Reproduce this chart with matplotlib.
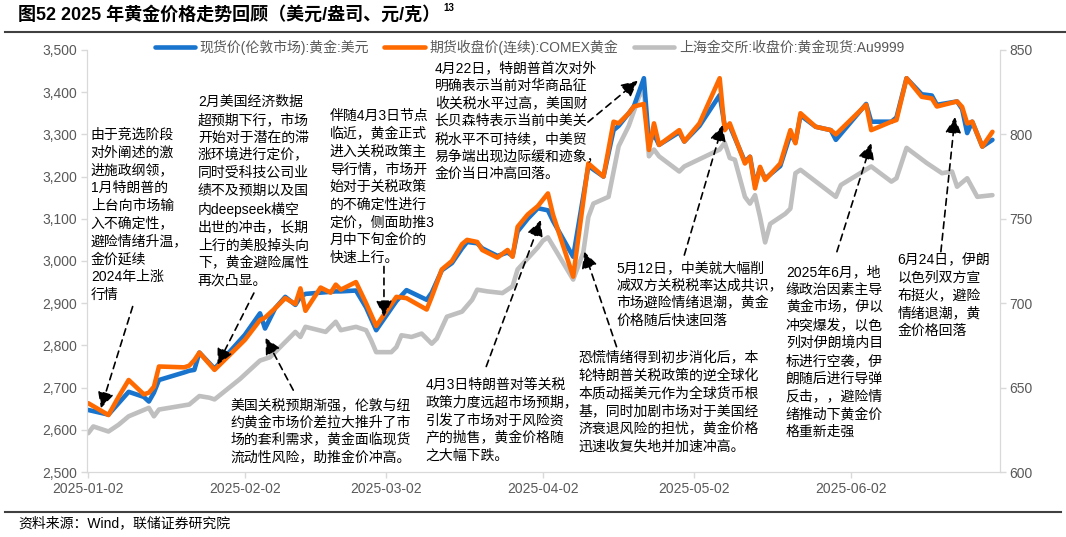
import matplotlib
matplotlib.use('Agg')
import matplotlib.pyplot as plt
import matplotlib.dates as mdates
import pandas as pd

plt.rcParams['font.family'] = ['Liberation Sans', 'Noto Sans CJK SC']
plt.rcParams['axes.unicode_minus'] = False

# 现货价(伦敦) / COMEX 期货 (美元/盎司)
dates_usd = ['2025-01-02', '2025-01-06', '2025-01-08', '2025-01-10', '2025-01-13', '2025-01-14',
             '2025-01-15', '2025-01-16', '2025-01-21', '2025-01-22', '2025-01-23', '2025-01-24',
             '2025-01-27', '2025-02-02', '2025-02-05', '2025-02-06', '2025-02-08', '2025-02-10',
             '2025-02-12', '2025-02-13', '2025-02-14', '2025-02-17', '2025-02-19', '2025-02-20',
             '2025-02-21', '2025-02-24', '2025-02-26', '2025-02-28', '2025-03-04', '2025-03-06',
             '2025-03-10', '2025-03-11', '2025-03-13', '2025-03-15', '2025-03-17', '2025-03-18',
             '2025-03-20', '2025-03-21', '2025-03-24', '2025-03-26', '2025-03-27', '2025-03-28',
             '2025-03-30', '2025-04-01', '2025-04-03', '2025-04-04', '2025-04-08', '2025-04-11',
             '2025-04-14', '2025-04-16', '2025-04-17', '2025-04-19', '2025-04-20', '2025-04-22',
             '2025-04-23', '2025-04-24', '2025-04-25', '2025-04-29', '2025-04-30', '2025-05-03',
             '2025-05-07', '2025-05-08', '2025-05-09', '2025-05-12', '2025-05-13', '2025-05-14',
             '2025-05-15', '2025-05-16', '2025-05-19', '2025-05-21', '2025-05-22', '2025-05-23',
             '2025-05-26', '2025-05-29', '2025-05-30', '2025-06-05', '2025-06-06', '2025-06-10',
             '2025-06-11', '2025-06-13', '2025-06-16', '2025-06-18', '2025-06-19', '2025-06-23',
             '2025-06-24', '2025-06-25', '2025-06-26', '2025-06-28', '2025-06-30']
spot_london = [2647, 2636, 2663, 2690, 2678, 2667,
               2688, 2718, 2736, 2740, 2742, 2783,
               2745, 2825, 2876, 2840, 2888, 2915,
               2896, 2915, 2922, 2925, 2927, 2928,
               2928, 2930, 2890, 2836, 2905, 2931,
               2908, 2925, 2978, 2995, 3030, 3045,
               3042, 3030, 3012, 3020, 3012, 3070,
               3100, 3125, 3120, 3095, 3010, 3225,
               3200, 3310, 3320, 3350, 3366, 3433,
               3279, 3300, 3275, 3305, 3283, 3320,
               3393, 3320, 3320, 3235, 3247, 3180,
               3220, 3195, 3225, 3300, 3282, 3345,
               3318, 3310, 3287, 3372, 3330, 3330,
               3340, 3433, 3395, 3392, 3370, 3378,
               3360, 3303, 3330, 3271, 3287]
comex_close = [2663, 2635, 2678, 2718, 2684, 2688,
               2702, 2750, 2748, 2752, 2765, 2783,
               2742, 2813, 2860, 2866, 2888, 2912,
               2898, 2935, 2882, 2937, 2925, 2944,
               2932, 2950, 2900, 2846, 2915, 2912,
               2885, 2915, 2980, 3000, 3040, 3050,
               3045, 3026, 3008, 3026, 3010, 3081,
               3110, 3130, 3160, 3110, 2963, 3231,
               3200, 3330, 3326, 3350, 3366, 3372,
               3263, 3326, 3275, 3310, 3283, 3326,
               3433, 3310, 3326, 3231, 3247, 3172,
               3223, 3192, 3231, 3310, 3279, 3350,
               3318, 3310, 3300, 3370, 3310, 3330,
               3334, 3433, 3389, 3385, 3366, 3378,
               3365, 3326, 3330, 3271, 3306]

# 上海金交所 Au9999 (元/克)
dates_sge = ['2025-01-02', '2025-01-03', '2025-01-06', '2025-01-08', '2025-01-10', '2025-01-14',
             '2025-01-15', '2025-01-16', '2025-01-22', '2025-01-24', '2025-01-26', '2025-01-27',
             '2025-02-01', '2025-02-05', '2025-02-07', '2025-02-12', '2025-02-13', '2025-02-14',
             '2025-02-18', '2025-02-20', '2025-02-21', '2025-02-24', '2025-02-26', '2025-02-27',
             '2025-02-28', '2025-03-03', '2025-03-04', '2025-03-05', '2025-03-07', '2025-03-09',
             '2025-03-11', '2025-03-12', '2025-03-14', '2025-03-17', '2025-03-19', '2025-03-20',
             '2025-03-22', '2025-03-25', '2025-03-27', '2025-03-28', '2025-04-01', '2025-04-02',
             '2025-04-03', '2025-04-04', '2025-04-08', '2025-04-10', '2025-04-11', '2025-04-12',
             '2025-04-15', '2025-04-17', '2025-04-19', '2025-04-21', '2025-04-22', '2025-04-23',
             '2025-04-24', '2025-04-25', '2025-04-29', '2025-04-30', '2025-05-07', '2025-05-08',
             '2025-05-09', '2025-05-10', '2025-05-12', '2025-05-13', '2025-05-14', '2025-05-15',
             '2025-05-16', '2025-05-17', '2025-05-20', '2025-05-21', '2025-05-22', '2025-05-23',
             '2025-05-30', '2025-05-31', '2025-06-06', '2025-06-10', '2025-06-11', '2025-06-13',
             '2025-06-17', '2025-06-20', '2025-06-22', '2025-06-23', '2025-06-25', '2025-06-27',
             '2025-06-30']
sge_au9999 = [623, 627, 624, 628, 633, 638,
              633, 637, 640, 645, 644, 643,
              655, 666, 668, 683, 680, 686,
              683, 689, 684, 686, 684, 678,
              671, 671, 674, 681, 680, 682,
              676, 679, 692, 695, 702, 708,
              707, 706, 710, 720, 733, 737,
              739, 734, 714, 730, 751, 759,
              763, 793, 805, 822, 827, 787,
              791, 787, 778, 781, 791, 795,
              786, 785, 763, 759, 764, 751,
              736, 747, 753, 756, 777, 779,
              763, 770, 781, 772, 774, 792,
              783, 777, 778, 769, 774, 763,
              764]

series_names = ['现货价(伦敦市场):黄金:美元', '期货收盘价(连续):COMEX黄金',
                '上海金交所:收盘价:黄金现货:Au9999']
tick_dates = ['2025-01-02', '2025-02-02', '2025-03-02', '2025-04-02', '2025-05-02', '2025-06-02']

notes = [
    ('由于竞选阶段\n对外阐述的激\n进施政纲领，\n1月特朗普的\n上台向市场输\n入不确定性，\n避险情绪升温，\n金价延续\n2024年上涨\n行情',
     '2025-01-02 12:00', 3315),
    ('2月美国经济数据\n超预期下行，市场\n开始对于潜在的滞\n涨环境进行定价，\n同时受科技公司业\n绩不及预期以及国\n内deepseek横空\n出世的冲击，长期\n上行的美股掉头向\n下，黄金避险属性\n再次凸显。',
     '2025-01-23 17:00', 3393),
    ('伴随4月3日节点\n临近，黄金正式\n进入关税政策主\n导行情，市场开\n始对于关税政策\n的不确定性进行\n定价，侧面助推3\n月中下旬金价的\n快速上行。',
     '2025-02-18 19:00', 3360),
    ('4月22日，特朗普首次对外\n明确表示当前对华商品征\n收关税水平过高，美国财\n长贝森特表示当前中美关\n税水平不可持续，中美贸\n易争端出现边际缓和迹象，\n金价当日冲高回落。',
     '2025-03-11 14:00', 3474),
    ('美国关税预期渐强，伦敦与纽\n约黄金市场价差拉大推升了市\n场的套利需求，黄金面临现货\n流动性风险，助推金价冲高。',
     '2025-01-30 05:00', 2675),
    ('4月3日特朗普对等关税\n政策力度远超市场预期，\n引发了市场对于风险资\n产的抛售，黄金价格随\n之大幅下跌。',
     '2025-03-09 19:00', 2723),
    ('恐慌情绪得到初步消化后，本\n轮特朗普关税政策的逆全球化\n本质动摇美元作为全球货币根\n基，同时加剧市场对于美国经\n济衰退风险的担忧，黄金价格\n迅速收复失地并加速冲高。',
     '2025-04-09 02:00', 2787),
    ('5月12日，中美就大幅削\n减双方关税税率达成共识，\n市场避险情绪退潮，黄金\n价格随后快速回落',
     '2025-04-16 12:00', 3000),
    ('2025年6月，地\n缘政治因素主导\n黄金市场，伊以\n冲突爆发，以色\n列对伊朗境内目\n标进行空袭，伊\n朗随后进行导弹\n反击，，避险情\n绪推动下黄金价\n格重新走强',
     '2025-05-20 02:00', 2990),
    ('6月24日，伊朗\n以色列双方宣\n布挺火，避险\n情绪退潮，黄\n金价格回落',
     '2025-06-11 05:00', 3019),
]

# (tail date, tail value, head date, head value), left axis units
arrows = [
    ('2025-01-10 19:00', 2892, '2025-01-04 12:00', 2651),
    ('2025-02-03 19:00', 2924, '2025-01-27 14:00', 2754),
    ('2025-02-11 14:00', 2694, '2025-02-06 02:00', 2818),
    ('2025-03-01 13:00', 2987, '2025-03-01 13:00', 2868),
    ('2025-03-21 19:00', 2750, '2025-04-01 14:00', 3097),
    ('2025-04-10 22:00', 3329, '2025-04-20 19:00', 3427),
    ('2025-04-16 14:00', 2797, '2025-04-10 05:00', 3022),
    ('2025-04-30 00:00', 3014, '2025-05-07 14:00', 3322),
    ('2025-05-30 05:00', 3022, '2025-06-06 00:00', 3279),
    ('2025-06-19 19:00', 3022, '2025-06-22 14:00', 3341),
]

fig = plt.figure(figsize=(10.66, 5.37), dpi=100)
ax = fig.add_axes([0.0816, 0.121, 0.8565, 0.786])
ax2 = ax.twinx()
ax.set_zorder(ax2.get_zorder() + 1)
ax.patch.set_visible(False)

d_usd = pd.to_datetime(dates_usd)
d_sge = pd.to_datetime(dates_sge)
l1, = ax.plot(d_usd, spot_london, color='#1874CD', lw=3.3, solid_joinstyle='round', solid_capstyle='round')
l2, = ax.plot(d_usd, comex_close, color='#FF6A00', lw=3.3, solid_joinstyle='round', solid_capstyle='round')
l3, = ax2.plot(d_sge, sge_au9999, color='#BFBFBF', lw=3.3, solid_joinstyle='round', solid_capstyle='round')

ax.set_ylim(2500, 3500)
ax2.set_ylim(600, 850)
ax.set_yticks(range(2500, 3501, 100))
ax.yaxis.set_major_formatter(matplotlib.ticker.FuncFormatter(lambda v, p: f'{int(v):,}'))
ax2.set_yticks(range(600, 851, 50))
ax.set_xlim(pd.Timestamp('2025-01-01 18:00'), pd.Timestamp('2025-07-01 12:00'))
ax.set_xticks(pd.to_datetime(tick_dates))
ax.xaxis.set_major_formatter(mdates.DateFormatter('%Y-%m-%d'))

for a in (ax, ax2):
    for s in a.spines.values():
        s.set_color('#D9D9D9')
    a.spines['top'].set_visible(False)
    a.tick_params(colors='#595959', labelsize=10, length=4, width=1, pad=3)
    a.tick_params(axis='both', color='#D9D9D9')

for txt, xd, yv in notes:
    ax.text(pd.Timestamp(xd), yv, txt, fontsize=10, va='top', ha='left', linespacing=1.34, color='black')

for tx, ty, hx, hy in arrows:
    ax.annotate('', xy=(pd.Timestamp(hx), hy), xytext=(pd.Timestamp(tx), ty),
                arrowprops=dict(arrowstyle='-|>,head_length=0.7,head_width=0.35', color='black',
                                lw=1.2, linestyle=(0, (4, 3)), shrinkA=0, shrinkB=0, mutation_scale=14))

leg = fig.legend([l1, l2, l3], series_names, loc='center left', bbox_to_anchor=(0.145, 0.912),
                 ncol=3, frameon=False, fontsize=10, handlelength=2.9, handletextpad=0.35,
                 columnspacing=1.1, borderaxespad=0, borderpad=0)
for t in leg.get_texts():
    t.set_color('#595959')

fig.text(0.017, 1 - 15 / 537, '图52 2025 年黄金价格走势回顾（美元/盎司、元/克）', fontsize=13,
         fontweight='bold', va='center', ha='left')
fig.text(443 / 1066, 1 - 8 / 537, '13', fontsize=7, fontweight='bold', va='center', ha='left')
fig.add_artist(plt.Line2D([0.005, 1.0], [0.940, 0.940], color='#404040', lw=1.5))
fig.add_artist(plt.Line2D([0.005, 0.995], [0.0466, 0.0466], color='#404040', lw=1.5))
fig.text(18 / 1066, 1 - 523 / 537, '资料来源：Wind，联储证券研究院', fontsize=10, va='center', ha='left')

fig.savefig('out.png', dpi=100)
